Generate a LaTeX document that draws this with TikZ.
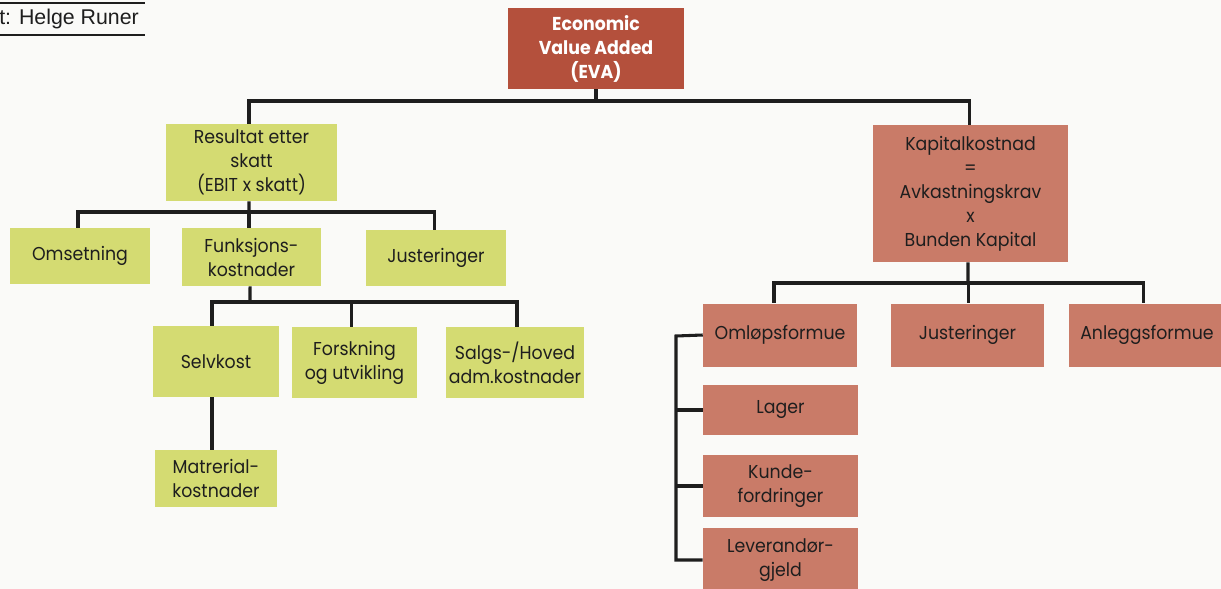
\documentclass[tikz,border=0pt]{standalone}
\usepackage{fontspec}
\setmainfont{Poppins}[FakeStretch=0.93]
\setsansfont{Liberation Sans}
\definecolor{evared}{HTML}{B4503C}
\definecolor{salmon}{HTML}{C97B68}
\definecolor{lime}{HTML}{D4DB72}
\definecolor{ink}{HTML}{1E1E1E}
\definecolor{paper}{HTML}{FAFAF8}
\tikzset{
  box/.style={rectangle, inner sep=2pt, align=center, text=ink,
    font=\fontsize{14}{18}\selectfont},
  ybox/.style={box, fill=lime},
  rbox/.style={box, fill=salmon},
  ebox/.style={box, fill=evared, text=white, font=\bfseries\fontsize{14}{18}\selectfont},
  sz/.style 2 args={minimum width=#1*0.75pt, minimum height=#2*0.75pt},
  link/.style={draw=ink, line width=2.3pt},
  rule/.style={draw=ink, line width=1.2pt}
}
\begin{document}
\begin{tikzpicture}[x=0.75pt, y=-0.75pt]
\fill[paper] (0,0) rectangle (1221,589);
\useasboundingbox (0,0) rectangle (1221,589);
\begin{scope}
\clip (0,0) rectangle (1221,589);
% credit
\coordinate (r1a) at (0,3); \coordinate (r1b) at (145,3);
\coordinate (r2a) at (0,35); \coordinate (r2b) at (145,35);
\draw[rule] (r1a) -- (r1b);
\draw[rule] (r2a) -- (r2b);
\node[anchor=west, inner sep=0pt, text=ink, font=\sffamily\fontsize{16}{18}\selectfont] (credit) at (-1,19) {t: Helge Runer};

% boxes
\node[ebox, sz={176}{81}] (eva) at (596,48.5) {Economic\\Value Added\\(EVA)};
\node[ybox, sz={171}{77}] (res) at (251.5,162.5) {Resultat etter\\skatt\\(EBIT x skatt)};
\node[ybox, sz={140}{56}] (oms) at (80,256) {Omsetning};
\node[ybox, sz={139}{58}] (fun) at (251.5,257) {Funksjons-\\kostnader};
\node[ybox, sz={140}{56}] (jus) at (436,258) {Justeringer};
\node[ybox, sz={126}{71}] (sel) at (216,361.5) {Selvkost};
\node[ybox, sz={125}{71}] (for) at (354.5,362.5) {Forskning\\og utvikling};
\node[ybox, sz={126}{71}] (sal) at (515,362.5) {Salgs-/Hoved\\adm.kostnader};
\node[ybox, sz={122}{57}] (mat) at (216,478.5) {Matrerial-\\kostnader};

\node[rbox, sz={195}{137}] (kap) at (970.5,193.5) {Kapitalkostnad\\=\\Avkastningskrav\\x\\Bunden Kapital};
\node[rbox, sz={154}{63}] (oml) at (780,335) {Omløpsformue};
\node[rbox, sz={153}{63}] (jur) at (967.5,335) {Justeringer};
\node[rbox, sz={156}{63}] (anl) at (1147,335) {Anleggsformue};
\node[rbox, sz={155}{50}] (lag) at (780.5,410) {Lager};
\node[rbox, sz={155}{62}] (kun) at (780.5,486) {Kunde-\\fordringer};
\node[rbox, sz={155}{64}] (lev) at (780.5,560) {Leverandør-\\gjeld};

% connectors
\coordinate (j1) at (596,101);
\draw[link] (eva.south) -- (j1);
\draw[link] (j1) -| ([xshift=-1.9pt]res.north);
\draw[link] (j1) -| ([xshift=-1.1pt]kap.north);

\coordinate (j2) at (249,212);
\draw[link] ([xshift=-1.9pt]res.south) -- (j2);
\draw[link] (j2) -| ([xshift=-1.5pt]oms.north);
\draw[link] (j2) -| ([xshift=-1.9pt]fun.north);
\draw[link] (j2) -| ([xshift=-0.8pt]jus.north);

\coordinate (j3) at (250,302);
\draw[link] ([xshift=-1.1pt]fun.south) -- (j3);
\draw[link] (j3) -| ([xshift=-3pt]sel.north);
\draw[link] (j3) -| ([xshift=-2.6pt]for.north);
\draw[link] (j3) -| ([xshift=1.5pt]sal.north);

\draw[link] ([xshift=-3pt]sel.south) -- ([xshift=-3pt]mat.north);

\coordinate (j4) at (968,283);
\draw[link] ([xshift=-1.9pt]kap.south) -- (j4);
\draw[link] (j4) -| ([xshift=-4.5pt]oml.north);
\draw[link] (j4) -| ([xshift=0.4pt]jur.north);
\draw[link] (j4) -| ([xshift=-2.3pt]anl.north);

\coordinate (b0) at (676,336);
\coordinate (b3) at (676,560);
\draw[link] (oml.west) -- (b0) -- (b3) -- (lev.west);
\draw[link] (lag.west) -- (lag.west -| b0);
\draw[link] (kun.west) -- (kun.west -| b0);
\end{scope}
\end{tikzpicture}
\end{document}
